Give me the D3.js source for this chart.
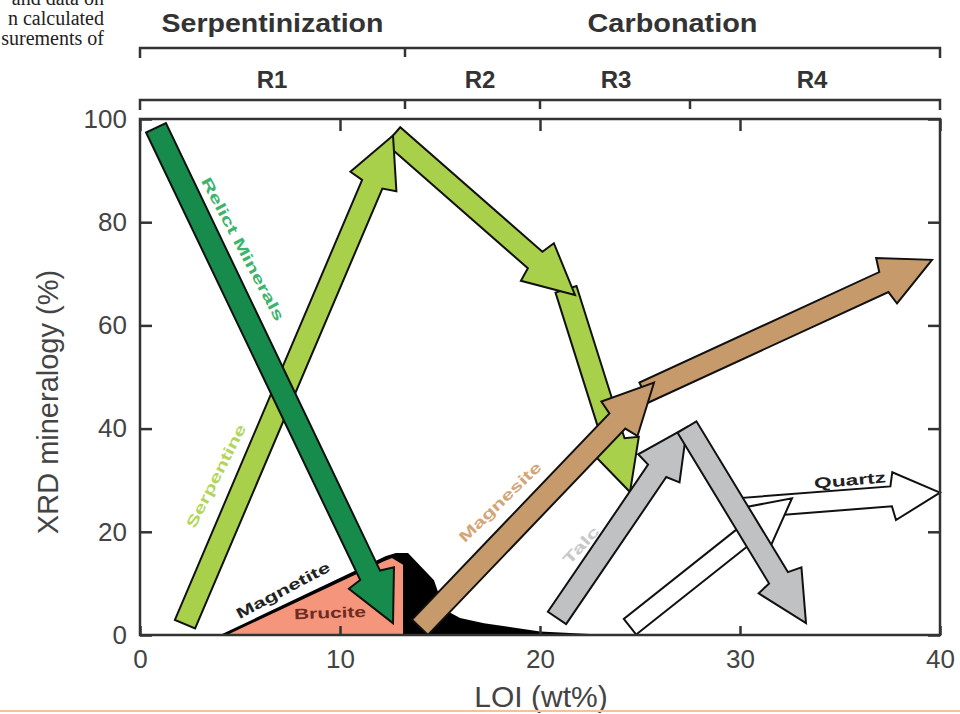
<!DOCTYPE html>
<html>
<head>
<meta charset="utf-8">
<script src="https://cdn.jsdelivr.net/npm/d3@7"></script>
<style>
body{margin:0;background:#fff;}
svg{display:block;}
</style>
</head>
<body>
<script>
const w=960;
const h=714;

// axis ticks
const xTicks=[0,10,20,30,40];
const yTicks=[0,20,40,60,80,100];

// stages along LOI (wt%)
const stageNames=["Serpentinization","Carbonation"];
const stageBounds=[0,13.25,40];
const regionNames=["R1","R2","R3","R4"];
const regionBounds=[0,13.25,20,27.5,40];
const regionLabelX=[6.6,17,23.8,33.6];

// filled areas, [LOI, %]
const magnetiteArea=[[4.0,0],[12.3,15.3],[12.8,15.9],[13.4,15.9],[14.7,10.6],[15.2,5],[16,3.3],[17.2,2.3],[20,0.7],[23,0.1],[23,0]];
const bruciteArea=[[4.35,0],[12.2,14.3],[12.6,14.9],[13.15,13.6],[13.15,0]];

// trend arrows, [start, end] in [LOI, %]
const serpentineArrows=[[[21.3,67],[24.5,27.7]],[[12.65,96.8],[21.75,65.9]],[[2.25,2.1],[12.65,96.8]]];
const relictArrows=[[[0.8,98.3],[12.65,2.3]]];
const magnesiteArrows=[[[25.2,47],[39.6,72.7]],[[14,1.5],[25.7,48.9]]];
const quartzArrows=[[[30,24.6],[40,27.6]],[[24.5,1.6],[32.6,26.5]]];
const talcArrows=[[[20.85,3.3],[27.35,40.3]],[[27.35,40.3],[33.3,2.3]]];

// arrow labels, anchor in [LOI, %]
const arrowLabels=[
  {text:"Relict Minerals",at:[5.15,74.8],angle:62,len:160,color:"#3cb46c"},
  {text:"Serpentine",at:[3.8,30.8],angle:-63,len:114,color:"#b3d65a"},
  {text:"Magnetite",at:[7.15,8.7],angle:-28,len:104,color:"#222"},
  {text:"Brucite",at:[9.5,4.3],angle:-2,len:72,color:"#6e2b22"},
  {text:"Magnesite",at:[18,25.8],angle:-44,len:108,color:"#d3a679"},
  {text:"Talc",at:[22.05,17.4],angle:-47,len:46,color:"#c8c8c8"},
  {text:"Quartz",at:[35.5,30],angle:-5,len:72,color:"#222"}
];

const caption=["and data on","n calculated","surements of"];

const FONT="'Liberation Sans', Arial, Helvetica, sans-serif";
const INK="#333";

const xScale=d3.scaleLinear().domain([0,40]).range([140,940]);
const yScale=d3.scaleLinear().domain([0,100]).range([635,119]);

const svg=d3.select("body").append("svg").attr("width",w).attr("height",h)
  .style("font-family",FONT);

// cropped caption text from the page
svg.append("g").selectAll("text")
  .data(caption)
  .enter()
  .append("text")
  .text(d=>d)
  .attr("x",104)
  .attr("y",(d,i)=>5+i*20)
  .attr("text-anchor","end")
  .style("font-family","'Liberation Serif', 'Times New Roman', serif")
  .style("font-size","20px")
  .attr("fill","#222");

// brackets on top
function bracket(bounds,yLine){
  const g=svg.append("g").attr("fill","none").attr("stroke",INK).attr("stroke-width",2.5);
  const x0=xScale(bounds[0]);
  const x1=xScale(bounds[bounds.length-1]);
  g.append("path").attr("d",`M${x0},${yLine+10}V${yLine}H${x1}V${yLine+10}`);
  bounds.slice(1,-1).forEach(b=>{
    g.append("path").attr("d",`M${xScale(b)},${yLine}V${yLine+9}`);
  });
}
bracket(stageBounds,48);
bracket(regionBounds,100);

stageNames.forEach((s,i)=>{
  const cx=(xScale(stageBounds[i])+xScale(stageBounds[i+1]))/2;
  svg.append("text").text(s)
    .attr("x",cx)
    .attr("y",32)
    .attr("text-anchor","middle")
    .attr("textLength",i==0?222:170)
    .attr("lengthAdjust","spacingAndGlyphs")
    .style("font-size","26px")
    .style("font-weight","bold")
    .attr("fill",INK);
});
regionNames.forEach((r,i)=>{
  svg.append("text").text(r)
    .attr("x",xScale(regionLabelX[i]))
    .attr("y",88)
    .attr("text-anchor","middle")
    .style("font-size","24px")
    .style("font-weight","bold")
    .attr("fill",INK);
});

// areas
const areaLine=d3.line().x(d=>xScale(d[0])).y(d=>yScale(d[1]));
svg.append("path").attr("d",areaLine(magnetiteArea)+"Z").attr("fill","#000");
svg.append("path").attr("d",areaLine(bruciteArea)+"Z").attr("fill","#f4957c");

// arrows
function arrowPoints(a,b,o){
  const p0=[xScale(a[0]),yScale(a[1])];
  const p1=[xScale(b[0]),yScale(b[1])];
  const dx=p1[0]-p0[0], dy=p1[1]-p0[1];
  const L=Math.hypot(dx,dy);
  const ux=dx/L, uy=dy/L, nx=-uy, ny=ux;
  const bx=p1[0]-ux*o.hl, by=p1[1]-uy*o.hl;
  const pt=(x,y,s)=>[x+nx*s,y+ny*s];
  return [
    pt(p0[0],p0[1],o.sw),
    pt(bx-ux*3,by-uy*3,o.sw),
    pt(bx,by,o.hw),
    p1,
    pt(bx,by,-o.hw),
    pt(bx-ux*3,by-uy*3,-o.sw),
    pt(p0[0],p0[1],-o.sw)
  ];
}
const arrowSize={sw:11,hw:25,hl:50};
function drawArrows(list,fill,size){
  svg.append("g").selectAll("polygon")
    .data(list)
    .enter()
    .append("polygon")
    .attr("points",d=>arrowPoints(d[0],d[1],size||arrowSize).map(p=>p.join(",")).join(" "))
    .attr("fill",fill)
    .attr("stroke","#111")
    .attr("stroke-width",2)
    .attr("stroke-linejoin","miter");
}
drawArrows(serpentineArrows,"#a8d04a");
drawArrows(relictArrows,"#168b4c");
drawArrows(magnesiteArrows,"#c69a6b");
drawArrows(quartzArrows,"#fff",{sw:10,hw:24,hl:46});
drawArrows(talcArrows,"#bfc1c3");

// arrow labels
svg.append("g").selectAll("text")
  .data(arrowLabels)
  .enter()
  .append("text")
  .text(d=>d.text)
  .attr("transform",d=>`translate(${xScale(d.at[0])},${yScale(d.at[1])}) rotate(${d.angle})`)
  .attr("text-anchor","middle")
  .attr("dy","0.35em")
  .attr("textLength",d=>d.len)
  .attr("lengthAdjust","spacingAndGlyphs")
  .style("font-size","15px")
  .style("font-weight","bold")
  .attr("fill",d=>d.color);

// axes
function styleAxis(g){
  g.select(".domain").remove();
  g.selectAll(".tick line").attr("stroke",INK).attr("stroke-width",2.5);
  g.selectAll(".tick text").attr("fill","#444").style("font-size","26px").style("font-family",FONT);
}
svg.append("g")
  .attr("transform",`translate(0,${yScale(0)})`)
  .call(d3.axisBottom(xScale).tickValues(xTicks).tickSizeInner(-9).tickSizeOuter(0))
  .call(styleAxis)
  .call(g=>g.selectAll(".tick text").attr("dy",null).attr("y",33));
svg.append("g")
  .attr("transform",`translate(0,${yScale(100)})`)
  .call(d3.axisTop(xScale).tickValues(xTicks).tickSizeInner(-12).tickSizeOuter(0).tickFormat(""))
  .call(styleAxis);
svg.append("g")
  .attr("transform",`translate(${xScale(0)},0)`)
  .call(d3.axisLeft(yScale).tickValues(yTicks).tickSizeInner(-12).tickSizeOuter(0).tickPadding(13))
  .call(styleAxis);
svg.append("g")
  .attr("transform",`translate(${xScale(40)},0)`)
  .call(d3.axisRight(yScale).tickValues(yTicks).tickSizeInner(-12).tickSizeOuter(0).tickFormat(""))
  .call(styleAxis);

// frame
svg.append("rect")
  .attr("x",xScale(0))
  .attr("y",yScale(100))
  .attr("width",xScale(40)-xScale(0))
  .attr("height",yScale(0)-yScale(100))
  .attr("fill","none")
  .attr("stroke",INK)
  .attr("stroke-width",2.5);

// axis titles
svg.append("text")
  .text("LOI (wt%)")
  .attr("x",541)
  .attr("y",707)
  .attr("text-anchor","middle")
  .style("font-size","30px")
  .attr("fill","#444");
svg.append("text")
  .text("XRD mineralogy (%)")
  .attr("transform","translate(58,402) rotate(-90)")
  .attr("text-anchor","middle")
  .style("font-size","29px")
  .attr("fill","#444");

// page rule at the bottom
svg.append("line")
  .attr("x1",0).attr("x2",w)
  .attr("y1",711).attr("y2",711)
  .attr("stroke","#f3c29c")
  .attr("stroke-width",2);
</script>
</body>
</html>
